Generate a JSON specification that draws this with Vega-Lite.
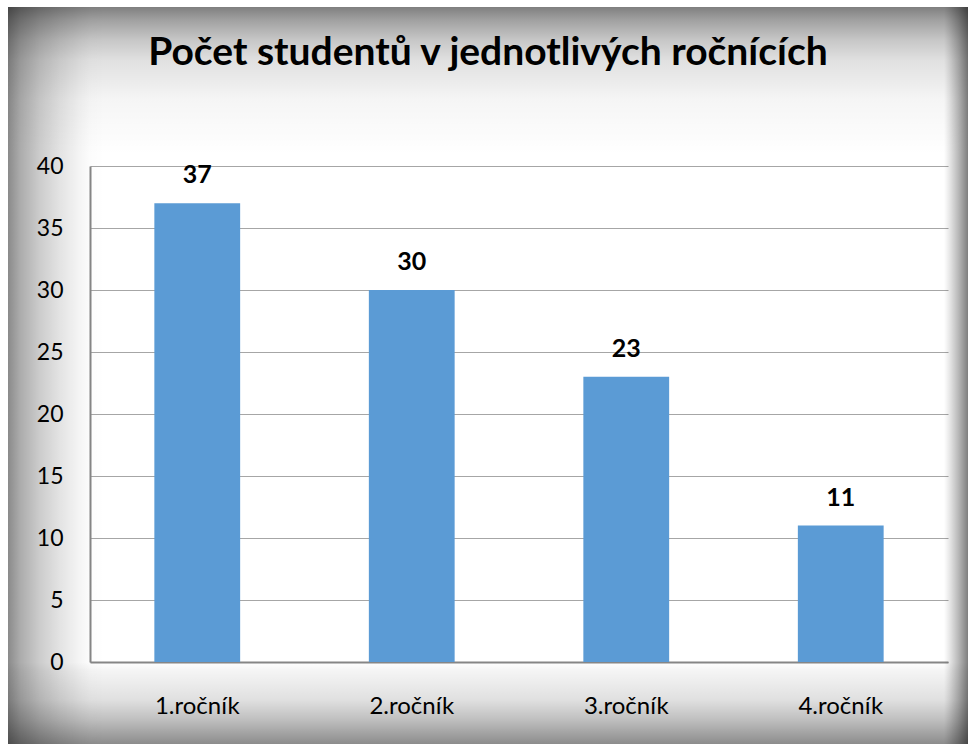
{
  "$schema": "https://vega.github.io/schema/vega-lite/v6.json",
  "width": 960,
  "height": 737,
  "autosize": "none",
  "padding": {"left": 8, "top": 7, "right": 0, "bottom": 0},
  "background": "white",
  "title": {
    "text": "Počet studentů v jednotlivých ročnících",
    "font": "Lato",
    "fontSize": 39,
    "fontWeight": "bold",
    "color": "black",
    "anchor": "middle",
    "baseline": "alphabetic",
    "offset": -97
  },
  "config": {
    "view": {"stroke": null},
    "axis": {"titleFont": "Lato", "labelFont": "Lato"}
  },
  "layer": [
    {
      "data": {"values": [{}]},
      "mark": {
        "type": "rect",
        "fill": {
          "gradient": "linear", "x1": 0, "x2": 1, "y1": 0, "y2": 0,
          "stops": [
            {"offset": 0, "color": "rgba(0,0,0,0.46)"},
            {"offset": 0.0125, "color": "rgba(0,0,0,0.33)"},
            {"offset": 0.033, "color": "rgba(0,0,0,0.2)"},
            {"offset": 0.054, "color": "rgba(0,0,0,0.11)"},
            {"offset": 0.075, "color": "rgba(0,0,0,0.04)"},
            {"offset": 0.0856, "color": "rgba(0,0,0,0.01)"},
            {"offset": 0.1, "color": "rgba(0,0,0,0)"},
            {"offset": 0.975, "color": "rgba(0,0,0,0)"},
            {"offset": 0.98, "color": "rgba(0,0,0,0.08)"},
            {"offset": 0.99, "color": "rgba(0,0,0,0.28)"},
            {"offset": 1, "color": "rgba(0,0,0,0.5)"}
          ]
        }
      },
      "encoding": {}
    },
    {
      "data": {"values": [{}]},
      "mark": {
        "type": "rect",
        "fill": {
          "gradient": "linear", "x1": 0, "x2": 0, "y1": 0, "y2": 1,
          "stops": [
            {"offset": 0, "color": "rgba(0,0,0,0.5)"},
            {"offset": 0.018, "color": "rgba(0,0,0,0.37)"},
            {"offset": 0.045, "color": "rgba(0,0,0,0.22)"},
            {"offset": 0.072, "color": "rgba(0,0,0,0.12)"},
            {"offset": 0.126, "color": "rgba(0,0,0,0.04)"},
            {"offset": 0.2, "color": "rgba(0,0,0,0)"},
            {"offset": 0.889, "color": "rgba(0,0,0,0)"},
            {"offset": 0.9, "color": "rgba(0,0,0,0.04)"},
            {"offset": 0.94, "color": "rgba(0,0,0,0.12)"},
            {"offset": 0.967, "color": "rgba(0,0,0,0.25)"},
            {"offset": 1, "color": "rgba(0,0,0,0.45)"}
          ]
        }
      },
      "encoding": {}
    },
    {
      "data": {
        "values": [
          {"rocnik": "1.ročník", "pocet": 37},
          {"rocnik": "2.ročník", "pocet": 30},
          {"rocnik": "3.ročník", "pocet": 23},
          {"rocnik": "4.ročník", "pocet": 11}
        ]
      },
      "encoding": {
        "x": {
          "field": "rocnik",
          "type": "nominal",
          "sort": null,
          "scale": {"range": [82, 940], "paddingInner": 0.6, "paddingOuter": 0.3},
          "axis": {
            "title": null,
            "orient": "bottom",
            "offset": -82,
            "domainColor": "#868686",
            "domainWidth": 2,
            "ticks": false,
            "tickSize": 0,
            "labelAngle": 0,
            "labelFont": "Lato",
            "labelFontSize": 24,
            "labelColor": "black",
            "labelBaseline": "alphabetic",
            "labelPadding": 51,
            "grid": false
          }
        },
        "y": {
          "field": "pocet",
          "type": "quantitative",
          "scale": {"domain": [0, 40], "range": [655, 159], "nice": false},
          "axis": {
            "title": null,
            "orient": "left",
            "offset": -82,
            "values": [0, 5, 10, 15, 20, 25, 30, 35, 40],
            "domainColor": "#868686",
            "domainWidth": 2,
            "ticks": false,
            "tickSize": 0,
            "labelFont": "Lato",
            "labelFontSize": 23,
            "labelColor": "black",
            "labelPadding": 27,
            "grid": true,
            "gridColor": "#a6a6a6",
            "gridWidth": 1.2
          }
        }
      },
      "layer": [
        {"mark": {"type": "bar", "color": "#5b9bd5"}},
        {
          "mark": {
            "type": "text",
            "font": "Lato",
            "fontSize": 25,
            "fontWeight": "bold",
            "color": "black",
            "baseline": "alphabetic",
            "dy": -20
          },
          "encoding": {"text": {"field": "pocet", "type": "quantitative"}}
        }
      ]
    }
  ]
}
